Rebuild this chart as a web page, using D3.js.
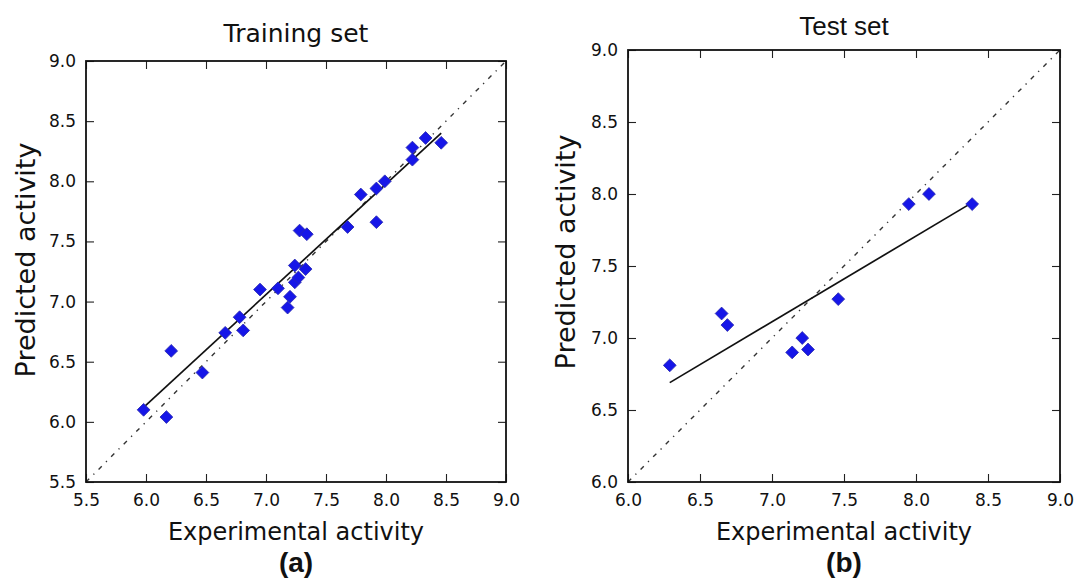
<!DOCTYPE html>
<html>
<head>
<meta charset="utf-8">
<script src="https://cdn.jsdelivr.net/npm/d3@7"></script>
<style>
  html, body { margin: 0; padding: 0; background: #fff; }
  svg { display: block; }
</style>
</head>
<body>
<svg id="chart" width="1074" height="579"></svg>
<script>
// ---- Data ----
const trainX = [5.98, 6.17, 6.21, 6.47, 6.66, 6.78, 6.81, 6.95, 7.10, 7.18, 7.20, 7.24, 7.24, 7.27, 7.33, 7.28, 7.34, 7.68, 7.79, 7.92, 7.92, 7.99, 8.22, 8.22, 8.33, 8.46];
const trainY = [6.10, 6.04, 6.59, 6.41, 6.74, 6.87, 6.76, 7.10, 7.11, 6.95, 7.04, 7.30, 7.16, 7.20, 7.27, 7.59, 7.56, 7.62, 7.89, 7.94, 7.66, 8.00, 8.18, 8.28, 8.36, 8.32];
const trainFitX = [5.98, 8.46];
const trainFitY = [6.12, 8.40];

const testX = [6.29, 6.65, 6.69, 7.14, 7.21, 7.25, 7.46, 7.95, 8.09, 8.39];
const testY = [6.81, 7.17, 7.09, 6.90, 7.00, 6.92, 7.27, 7.93, 8.00, 7.93];
const testFitX = [6.29, 8.39];
const testFitY = [6.69, 7.94];

const trainTicks = [5.5, 6.0, 6.5, 7.0, 7.5, 8.0, 8.5, 9.0];
const testTicks = [6.0, 6.5, 7.0, 7.5, 8.0, 8.5, 9.0];

const titles = ["Training set", "Test set"];
const xLabel = "Experimental activity";
const yLabel = "Predicted activity";
const panelLabels = ["(a)", "(b)"];

// ---- Drawing ----
const svg = d3.select("#chart");

function panel(cfg) {
  const { left, top, width, height, domain, ticks, xs, ys, fitX, fitY,
          title, titleFont, titleSize, titleY, panelLabel, yLabelX, yLabelY } = cfg;
  const x = d3.scaleLinear().domain(domain).range([left, left + width]);
  const y = d3.scaleLinear().domain(domain).range([top + height, top]);
  const g = svg.append("g");
  const fmt = d3.format(".1f");
  const tickLen = 8;

  // diagonal reference line (dash-dot)
  g.append("line")
    .attr("x1", x(domain[0])).attr("y1", y(domain[0]))
    .attr("x2", x(domain[1])).attr("y2", y(domain[1]))
    .attr("stroke", "#333").attr("stroke-width", 1.4)
    .attr("stroke-dasharray", "4.5,6,1.3,6");

  // fit line
  g.append("line")
    .attr("x1", x(fitX[0])).attr("y1", y(fitY[0]))
    .attr("x2", x(fitX[1])).attr("y2", y(fitY[1]))
    .attr("stroke", "#111").attr("stroke-width", 1.7);

  // markers (diamonds)
  const sym = d3.symbol().type(d3.symbolSquare).size(82);
  g.selectAll("path.pt").data(xs.map((v, i) => [v, ys[i]]))
    .enter().append("path")
    .attr("class", "pt")
    .attr("d", sym)
    .attr("transform", d => `translate(${x(d[0])},${y(d[1])}) rotate(45)`)
    .attr("fill", "#1616e8")
    .attr("stroke", "#2a2ab0")
    .attr("stroke-width", 0.8);

  // axes with inward ticks on all sides
  const bottom = d3.axisBottom(x).tickValues(ticks).tickSize(-tickLen).tickFormat(fmt).tickPadding(12);
  const topAx = d3.axisTop(x).tickValues(ticks).tickSize(-tickLen).tickFormat("");
  const leftAx = d3.axisLeft(y).tickValues(ticks).tickSize(-tickLen).tickFormat(fmt).tickPadding(10);
  const rightAx = d3.axisRight(y).tickValues(ticks).tickSize(-tickLen).tickFormat("");

  const styleAxis = sel => {
    sel.select(".domain").remove();
    sel.selectAll(".tick line").attr("stroke", "#222").attr("stroke-width", 1.1);
    sel.selectAll(".tick text")
      .attr("font-family", "DejaVu Sans, sans-serif")
      .attr("font-size", 17).attr("fill", "#111");
  };
  g.append("g").attr("transform", `translate(0,${top + height})`).call(bottom).call(styleAxis);
  g.append("g").attr("transform", `translate(0,${top})`).call(topAx).call(styleAxis);
  g.append("g").attr("transform", `translate(${left},0)`).call(leftAx).call(styleAxis);
  g.append("g").attr("transform", `translate(${left + width},0)`).call(rightAx).call(styleAxis);

  // frame
  g.append("rect")
    .attr("x", left).attr("y", top).attr("width", width).attr("height", height)
    .attr("fill", "none").attr("stroke", "#111").attr("stroke-width", 1.8);

  // title
  g.append("text")
    .attr("x", left + width / 2).attr("y", titleY)
    .attr("text-anchor", "middle")
    .attr("font-family", titleFont).attr("font-size", titleSize).attr("fill", "#111")
    .text(title);

  // x label
  g.append("text")
    .attr("x", left + width / 2).attr("y", 540)
    .attr("text-anchor", "middle")
    .attr("font-family", "DejaVu Sans, sans-serif").attr("font-size", 24).attr("fill", "#111")
    .text(xLabel);

  // panel label
  g.append("text")
    .attr("x", left + width / 2).attr("y", 572)
    .attr("text-anchor", "middle")
    .attr("font-family", "Liberation Sans, Arial, sans-serif").attr("font-weight", "bold")
    .attr("font-size", 28).attr("fill", "#111")
    .text(panelLabel);

  // y label
  g.append("text")
    .attr("transform", `translate(${yLabelX},${yLabelY}) rotate(-90)`)
    .attr("text-anchor", "middle")
    .attr("font-family", "DejaVu Sans, sans-serif").attr("font-size", 27).attr("fill", "#111")
    .text(yLabel);
}

panel({
  left: 86, top: 61, width: 420, height: 421,
  domain: [5.5, 9.0], ticks: trainTicks,
  xs: trainX, ys: trainY, fitX: trainFitX, fitY: trainFitY,
  title: titles[0], titleFont: "DejaVu Sans, sans-serif", titleSize: 25, titleY: 42,
  panelLabel: panelLabels[0], yLabelX: 35, yLabelY: 260
});

panel({
  left: 628, top: 50, width: 432, height: 432,
  domain: [6.0, 9.0], ticks: testTicks,
  xs: testX, ys: testY, fitX: testFitX, fitY: testFitY,
  title: titles[1], titleFont: "Liberation Sans, Arial, sans-serif", titleSize: 26, titleY: 35,
  panelLabel: panelLabels[1], yLabelX: 575, yLabelY: 252
});
</script>
</body>
</html>
